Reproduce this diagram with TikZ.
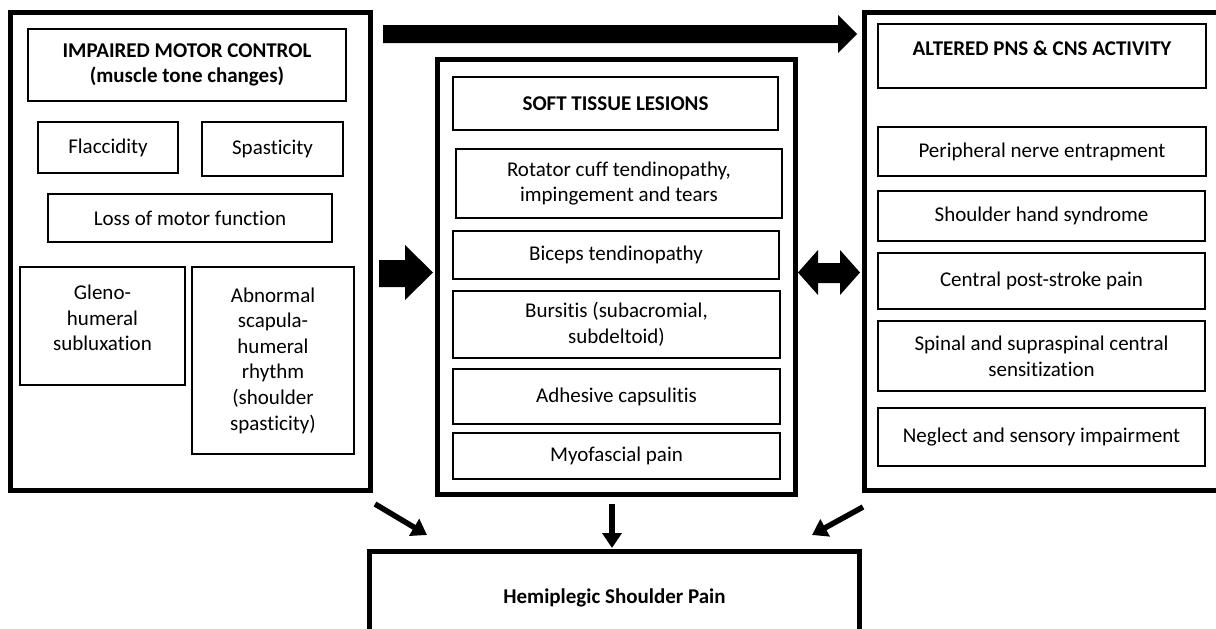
\documentclass[tikz,border=0pt]{standalone}
\usepackage{fontspec}
\setmainfont{Carlito}[Ligatures=NoCommon]
\usetikzlibrary{arrows.meta,calc}
\newcommand{\fsz}{\fontsize{21}{25.6}\selectfont}
\begin{document}
\begin{tikzpicture}[x=1pt,y=-1pt,
  outer/.style={draw, line width=5pt, inner sep=0pt},
  inbox/.style={draw, line width=2pt, inner sep=0pt, align=center, font=\fsz},
  hdr/.style={inbox, font=\fsz\bfseries},
  txt/.style={inner sep=0pt, align=center, font=\fsz},
  link/.style={line width=5.5pt, -{Triangle[length=15pt,width=19pt]}},
  blk/.style={fill=black}
]
\useasboundingbox (0,0) rectangle (1216,629);
\clip (0,0) rectangle (1216,629);

% ---------- left panel ----------
\node[outer, minimum width=360pt, minimum height=478pt] (L) at (190.5,251.5) {};
\node[hdr, minimum width=318pt, minimum height=72pt] (Lh) at (187,65) {IMPAIRED MOTOR CONTROL\\(muscle tone changes)};
\node[inbox, minimum width=140pt, minimum height=51pt] (flac) at (108,147.5) {Flaccidity};
\node[inbox, minimum width=141pt, minimum height=54pt] (spas) at (272.5,149) {Spasticity};
\node[inbox, minimum width=284pt, minimum height=48pt] (loss) at (190,218) {Loss of motor function};
\node[inbox, minimum width=165pt, minimum height=118pt] (glen) at (102.5,326) {};
\node[txt] (glent) at (102.5,318) {Gleno-\\humeral\\subluxation};
\node[inbox, minimum width=162pt, minimum height=187pt] (abn) at (273,360.5) {Abnormal\\scapula-\\humeral\\rhythm\\(shoulder\\spasticity)};

% ---------- middle panel ----------
\node[outer, minimum width=358pt, minimum height=435pt] (M) at (616.5,277) {};
\node[hdr, minimum width=325pt, minimum height=53pt] (Mh) at (615.5,103.5) {SOFT TISSUE LESIONS};
\node[inbox, minimum width=326pt, minimum height=69pt] (rot) at (619,183.5) {Rotator cuff tendinopathy,\\impingement and tears};
\node[inbox, minimum width=326pt, minimum height=48pt] (bic) at (616,255) {Biceps tendinopathy};
\node[inbox, minimum width=327pt, minimum height=67pt] (bur) at (616.5,324.5) {Bursitis (subacromial,\\subdeltoid)};
\node[inbox, minimum width=327pt, minimum height=55pt] (adh) at (616.5,396.5) {Adhesive capsulitis};
\node[inbox, minimum width=327pt, minimum height=46pt] (myo) at (616.5,456) {Myofascial pain};

% ---------- right panel ----------
\node[outer, minimum width=375pt, minimum height=478pt] (R) at (1052,251.5) {};
\node[inbox, minimum width=328pt, minimum height=64pt] (Rh) at (1042,56) {};
\node[txt, font=\fsz\bfseries] (Rht) at (1042,48) {ALTERED PNS \& CNS ACTIVITY};
\node[inbox, minimum width=328pt, minimum height=49pt] (per) at (1042,151.5) {Peripheral nerve entrapment};
\node[inbox, minimum width=327pt, minimum height=50pt] (shs) at (1041.5,216) {Shoulder hand syndrome};
\node[inbox, minimum width=327pt, minimum height=56pt] (cps) at (1041.5,281) {Central post-stroke pain};
\node[inbox, minimum width=327pt, minimum height=70pt] (spi) at (1041.5,356) {Spinal and supraspinal central\\sensitization};
\node[inbox, minimum width=327pt, minimum height=58pt] (neg) at (1041.5,437) {Neglect and sensory impairment};

% ---------- bottom ----------
\node[outer, minimum width=490pt, minimum height=94pt, font=\fsz\bfseries] (B) at (614.5,598) {Hemiplegic Shoulder Pain};

% ---------- block arrows ----------
\fill[blk] (383,25) -- (838,25) -- (838,15) -- (857,34) -- (838,53) -- (838,43) -- (383,43) -- cycle;
\fill[blk] (379,260) -- (405,260) -- (405,245) -- (433,272.5) -- (405,300) -- (405,287) -- (379,287) -- cycle;
\fill[blk] (798,272.5) -- (818,250) -- (818,263) -- (840,263) -- (840,250) -- (860,272.5) -- (840,295) -- (840,283) -- (818,283) -- (818,295) -- cycle;

% ---------- arrows to bottom ----------
\coordinate (a1) at (375,504);
\coordinate (a1e) at (427,535);
\coordinate (a2) at (612,504);
\coordinate (a2e) at (612,548);
\coordinate (a3) at (863,507);
\coordinate (a3e) at (812,535);
\draw[link] (a1) -- (a1e);
\draw[link] (a2) -- (a2e);
\draw[link] (a3) -- (a3e);
\end{tikzpicture}
\end{document}
